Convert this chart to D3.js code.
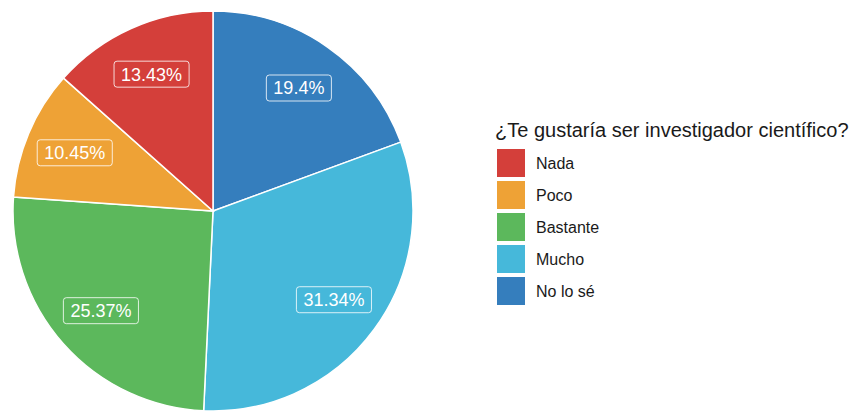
<!DOCTYPE html>
<html>
<head>
<meta charset="utf-8">
<script src="https://cdn.jsdelivr.net/npm/d3@7"></script>
<style>
  body { margin: 0; background: #fff; }
  text { font-family: "Liberation Sans", Arial, sans-serif; }
</style>
</head>
<body>
<script>
// data
var categories = ["Nada", "Poco", "Bastante", "Mucho", "No lo sé"];
var values = [13.43, 10.45, 25.37, 31.34, 19.4];
var labels = ["13.43%", "10.45%", "25.37%", "31.34%", "19.4%"];
var colors = ["#D43F3A", "#EEA236", "#5CB85C", "#46B8DA", "#357EBD"];
var title = "¿Te gustaría ser investigador científico?";

var width = 857, height = 412;
var cx = 213, cy = 211, R = 200;

var svg = d3.select("body").append("svg")
  .attr("width", width)
  .attr("height", height);

var color = d3.scaleOrdinal().domain(categories).range(colors);

// slices go clockwise from 12 o'clock, last category first
var rows = categories.map(function(c, i) { return {cat: c, value: values[i], label: labels[i]}; });
var order = rows.slice().reverse();

var pie = d3.pie()
  .value(function(d) { return d.value; })
  .sort(null);

var arc = d3.arc().innerRadius(0).outerRadius(R);
var labelArc = d3.arc().innerRadius(R * 0.75).outerRadius(R * 0.75);

var g = svg.append("g").attr("transform", "translate(" + cx + "," + cy + ")");

var arcs = pie(order);

g.selectAll("path")
  .data(arcs)
  .enter().append("path")
  .attr("d", arc)
  .attr("fill", function(d) { return color(d.data.cat); })
  .attr("stroke", "#fff")
  .attr("stroke-width", 1.5);

var lab = g.selectAll("g.lab")
  .data(arcs)
  .enter().append("g")
  .attr("class", "lab")
  .attr("transform", function(d) {
    var p = labelArc.centroid(d);
    return "translate(" + p[0] + "," + p[1] + ")";
  });

lab.append("text")
  .attr("text-anchor", "middle")
  .attr("dy", "0.36em")
  .attr("fill", "#fff")
  .style("font-size", "18px")
  .text(function(d) { return d.data.label; });

lab.each(function() {
  var t = d3.select(this).select("text");
  var b = t.node().getBBox();
  d3.select(this).insert("rect", "text")
    .attr("x", b.x - 7)
    .attr("y", -13)
    .attr("width", b.width + 14)
    .attr("height", 26)
    .attr("rx", 3)
    .attr("fill", "none")
    .attr("stroke", "#fff")
    .attr("stroke-opacity", 0.8)
    .attr("stroke-width", 1);
});

// legend
var legend = svg.append("g").attr("transform", "translate(495,0)");

legend.append("text")
  .attr("x", 0)
  .attr("y", 137)
  .style("font-size", "20px")
  .attr("fill", "#1a1a1a")
  .text(title);

var item = legend.selectAll("g.item")
  .data(categories)
  .enter().append("g")
  .attr("class", "item")
  .attr("transform", function(d, i) { return "translate(0," + (149 + i * 32) + ")"; });

item.append("rect")
  .attr("x", 2)
  .attr("y", 0)
  .attr("width", 28)
  .attr("height", 28)
  .attr("fill", function(d) { return color(d); });

item.append("text")
  .attr("x", 41)
  .attr("y", 14)
  .attr("dy", "0.36em")
  .style("font-size", "16px")
  .attr("fill", "#1a1a1a")
  .text(function(d) { return d; });
</script>
</body>
</html>
